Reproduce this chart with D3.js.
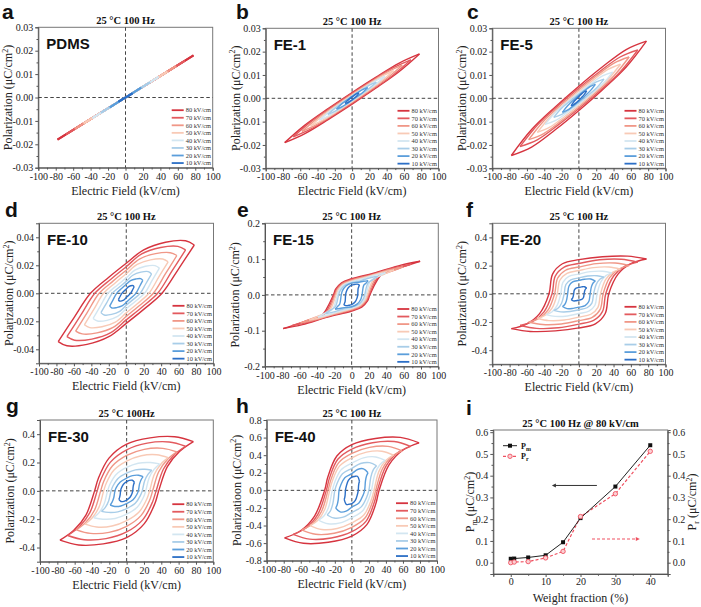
<!DOCTYPE html>
<html><head><meta charset="utf-8">
<script src="https://cdn.jsdelivr.net/npm/d3@7"></script>
<style>body{margin:0;background:#fff}svg{display:block}</style>
</head><body>
<svg id="c" width="701" height="607"></svg>
<script>
// ---------- DATA ----------
const levels = ["80 kV/cm","70 kV/cm","60 kV/cm","50 kV/cm","40 kV/cm","30 kV/cm","20 kV/cm","10 kV/cm"];
const levelColors = ["#d6343f","#e35a5e","#f09787","#f8cab6","#d3e6f1","#a8cde8","#5b9edb","#2c6fc6"];
const xTicks = [-100,-80,-60,-40,-20,0,20,40,60,80,100];

// Each loop: upper branch [E (kV/cm), P (uC/cm2)] from +Emax to -Emax; lower branch is its point reflection.
const loopsPDMS = [
 [[78,.018],[0,0],[-78,-.018]],
 [[68,.0157],[0,0],[-68,-.0157]],
 [[58,.0134],[0,0],[-58,-.0134]],
 [[48,.0111],[0,0],[-48,-.0111]],
 [[38,.0088],[0,0],[-38,-.0088]],
 [[28,.0065],[0,0],[-28,-.0065]],
 [[18,.0042],[0,0],[-18,-.0042]],
 [[8,.0018],[0,0],[-8,-.0018]]
];
const loopsFE1 = [
 [[78,.019],[54.6,.0151],[27.3,.009],[0,.0025],[-27.3,-.0043],[-54.6,-.0115],[-78,-.019]],
 [[68,.0165],[47.6,.0131],[23.8,.0078],[0,.0021],[-23.8,-.0038],[-47.6,-.01],[-68,-.0165]],
 [[58,.0142],[40.6,.0112],[20.3,.0066],[0,.0017],[-20.3,-.0034],[-40.6,-.0087],[-58,-.0142]],
 [[48,.0118],[33.6,.0093],[16.8,.0055],[0,.0014],[-16.8,-.0028],[-33.6,-.0073],[-48,-.0118]],
 [[38,.0094],[26.6,.0074],[13.3,.0043],[0,.0011],[-13.3,-.0023],[-26.6,-.0058],[-38,-.0094]],
 [[28,.0069],[19.6,.0055],[9.8,.0033],[0,.0009],[-9.8,-.0016],[-19.6,-.0042],[-28,-.0069]],
 [[18,.0046],[12.6,.0038],[6.3,.0024],[0,.0008],[-6.3,-.0009],[-12.6,-.0026],[-18,-.0046]],
 [[8,.0022],[5.6,.002],[2.8,.0013],[0,.0006],[-2.8,-.0002],[-5.6,-.0011],[-8,-.0022]]
];
const loopsFE5 = [
 [[78,.0245],[54.6,.0209],[27.3,.0135],[0,.0052],[-27.3,-.0037],[-54.6,-.0134],[-78,-.0245]],
 [[68,.0207],[47.6,.0177],[23.8,.0114],[0,.0044],[-23.8,-.0031],[-47.6,-.0113],[-68,-.0207]],
 [[58,.0177],[40.6,.0151],[20.3,.0097],[0,.0037],[-20.3,-.0027],[-40.6,-.0097],[-58,-.0177]],
 [[48,.0146],[33.6,.0124],[16.8,.0079],[0,.003],[-16.8,-.0023],[-33.6,-.0081],[-48,-.0146]],
 [[39,.0112],[27.3,.0096],[13.7,.0062],[0,.0024],[-13.7,-.0017],[-27.3,-.0061],[-39,-.0112]],
 [[29,.0082],[20.3,.007],[10.2,.0046],[0,.0018],[-10.2,-.0012],[-20.3,-.0044],[-29,-.0082]],
 [[19,.006],[13.3,.0051],[6.7,.0033],[0,.0013],[-6.7,-.0009],[-13.3,-.0033],[-19,-.006]],
 [[9,.0032],[6.3,.0028],[3.2,.0019],[0,.0008],[-3.2,-.0004],[-6.3,-.0017],[-9,-.0032]]
];
const loopsFE10 = [
 [[78,.0345],[68,.0375],[45,.0365],[20,.031],[0,.0215],[-20,.0115],[-41,0],[-60,-.0175],[-78,-.0345]],
 [[68,.031],[59.2,.0335],[39.4,.0327],[17.7,.0281],[0,.019],[-17.6,.0101],[-36,0],[-52.3,-.0158],[-68,-.031]],
 [[58,.027],[50.5,.029],[33.6,.0283],[15.1,.0244],[0,.0165],[-15.2,.0087],[-31,0],[-44.8,-.0138],[-58,-.027]],
 [[48,.0225],[41.8,.0245],[27.8,.0239],[12.5,.0206],[0,.014],[-12.7,.0074],[-26,0],[-37.2,-.0115],[-48,-.0225]],
 [[38,.018],[33,.0198],[22,.0193],[9.9,.0165],[0,.011],[-10.3,.0058],[-21,0],[-29.7,-.0092],[-38,-.018]],
 [[29,.0138],[25.2,.0155],[16.8,.0151],[7.5,.0129],[0,.0085],[-7.8,.0045],[-16,0],[-22.6,-.007],[-29,-.0138]],
 [[19,.0092],[16.5,.0105],[11,.0102],[4.9,.009],[0,.0065],[-5.4,.0034],[-11,0],[-15.1,-.0047],[-19,-.0092]],
 [[9,.0045],[7.8,.0055],[5.2,.0054],[2.3,.0046],[0,.003],[-2.5,.0016],[-5,0],[-7.1,-.0023],[-9,-.0045]]
];
const loopsFE15 = [
 [[79,.094],[56.9,.083],[27.7,.062],[0,.045],[-11.6,.034],[-18.5,.016],[-21,0],[-35.5,-.06],[-55.8,-.076],[-79,-.094]],
 [[69,.086],[49.7,.076],[24.2,.058],[0,.043],[-11,.032],[-17.6,.015],[-20,0],[-32.3,-.055],[-49.4,-.07],[-69,-.086]],
 [[59,.078],[42.5,.0695],[20.7,.054],[0,.041],[-10.5,.031],[-16.7,.014],[-19,0],[-29,-.05],[-42.4,-.063],[-59,-.078]],
 [[49,.07],[35.3,.063],[17.2,.05],[0,.039],[-9.9,.029],[-15.8,.014],[-18,0],[-25.8,-.045],[-36.6,-.057],[-49,-.07]],
 [[39,.062],[28.1,.056],[13.7,.046],[0,.037],[-9.1,.028],[-14.5,.013],[-16.5,0],[-22.1,-.04],[-30,-.05],[-39,-.062]],
 [[30,.052],[21.6,.048],[10.5,.04],[0,.034],[-8.3,.026],[-13.2,.012],[-15,0],[-18.8,-.033],[-24,-.042],[-30,-.052]],
 [[19,.04],[13.7,.038],[6.7,.035],[0,.033],[-6.6,.025],[-10.6,.012],[-12,0],[-13.8,-.026],[-16.2,-.032],[-19,-.04]],
 [[9,.028],[6.5,.03],[3.2,.029],[0,.027],[-3.9,.02],[-6.2,.009],[-7,0],[-7.5,-.018],[-8.2,-.023],[-9,-.028]]
];
const loopsFE20 = [
 [[78,.247],[56.2,.267],[27.3,.263],[0,.242],[-19,.213],[-30.4,.14],[-34.5,0],[-45.4,-.141],[-60.6,-.215],[-78,-.247]],
 [[68,.225],[49,.245],[23.8,.241],[0,.215],[-17,.189],[-27.3,.125],[-31,0],[-40.3,-.128],[-53.2,-.196],[-68,-.225]],
 [[58,.2],[41.8,.218],[20.3,.214],[0,.19],[-15.4,.167],[-24.6,.11],[-28,0],[-35.5,-.114],[-46,-.174],[-58,-.2]],
 [[48,.175],[34.6,.19],[16.8,.186],[0,.165],[-13.8,.145],[-22,.096],[-25,0],[-30.8,-.1],[-38.8,-.152],[-48,-.175]],
 [[38,.148],[27.4,.16],[13.3,.157],[0,.14],[-11.6,.123],[-18.5,.081],[-21,0],[-25.3,-.084],[-31.2,-.129],[-38,-.148]],
 [[29,.118],[20.9,.128],[10.2,.126],[0,.113],[-9.4,.099],[-15,.066],[-17,0],[-20,-.067],[-24.2,-.103],[-29,-.118]],
 [[19,.09],[13.7,.105],[6.7,.103],[0,.095],[-7.2,.084],[-11.4,.055],[-13,0],[-14.5,-.051],[-16.6,-.078],[-19,-.09]],
 [[9,.04],[6.5,.05],[3.2,.049],[0,.045],[-3.3,.04],[-5.3,.026],[-6,0],[-6.8,-.023],[-7.8,-.035],[-9,-.04]]
];
const loopsFE30 = [
 [[77,.348],[55.4,.382],[27,.374],[0,.33],[-20.4,.231],[-32.6,.089],[-37,0],[-47,-.171],[-61,-.278],[-77,-.348]],
 [[68,.315],[49,.345],[23.8,.337],[0,.29],[-18.7,.203],[-29.9,.078],[-34,0],[-42.5,-.154],[-54.4,-.252],[-68,-.315]],
 [[58,.275],[41.8,.3],[20.3,.293],[0,.25],[-16.5,.175],[-26.4,.068],[-30,0],[-37,-.135],[-46.8,-.22],[-58,-.275]],
 [[48,.235],[34.6,.255],[16.8,.248],[0,.21],[-14.6,.147],[-23.3,.057],[-26.5,0],[-31.9,-.115],[-39.4,-.188],[-48,-.235]],
 [[38,.19],[27.4,.2],[13.3,.195],[0,.165],[-12.1,.116],[-19.4,.045],[-22,0],[-26,-.093],[-31.6,-.152],[-38,-.19]],
 [[29,.145],[20.9,.152],[10.2,.148],[0,.125],[-9.9,.088],[-15.8,.034],[-18,0],[-20.8,-.071],[-24.6,-.116],[-29,-.145]],
 [[19,.1],[13.7,.11],[6.7,.107],[0,.09],[-7.4,.063],[-11.9,.024],[-13.5,0],[-14.9,-.049],[-16.8,-.08],[-19,-.1]],
 [[9,.06],[6.5,.075],[3.2,.074],[0,.065],[-3.9,.045],[-6.2,.018],[-7,0],[-7.5,-.029],[-8.2,-.048],[-9,-.06]]
];
const loopsFE40 = [
 [[79,.54],[56.9,.602],[27.7,.59],[0,.52],[-17.6,.39],[-28.2,.151],[-32,0],[-43.8,-.292],[-60.2,-.459],[-79,-.54]],
 [[69,.5],[49.7,.555],[24.2,.542],[0,.47],[-16.5,.353],[-26.4,.136],[-30,0],[-39.8,-.27],[-53.4,-.425],[-69,-.5]],
 [[59,.45],[42.5,.5],[20.7,.488],[0,.42],[-15.4,.315],[-24.6,.122],[-28,0],[-35.8,-.243],[-46.6,-.383],[-59,-.45]],
 [[49,.4],[35.3,.445],[17.2,.434],[0,.37],[-14.3,.278],[-22.9,.107],[-26,0],[-31.8,-.216],[-39.8,-.34],[-49,-.4]],
 [[39,.34],[28.1,.38],[13.7,.37],[0,.31],[-12.7,.233],[-20.2,.09],[-23,0],[-27,-.184],[-32.6,-.289],[-39,-.34]],
 [[29,.28],[20.9,.315],[10.2,.305],[0,.25],[-11,.188],[-17.6,.073],[-20,0],[-22.3,-.151],[-25.4,-.238],[-29,-.28]],
 [[19,.2],[13.7,.245],[6.7,.237],[0,.19],[-8.3,.143],[-13.2,.055],[-15,0],[-16,-.108],[-17.4,-.17],[-19,-.2]],
 [[9,.1],[6.5,.16],[3.2,.158],[0,.15],[-4.1,.113],[-6.6,.044],[-7.5,0],[-7.9,-.054],[-8.4,-.085],[-9,-.1]]
];

// panel i
const weightFraction = [0,1,5,10,15,20,30,40];
const pmValues = [0.018,0.019,0.024,0.034,0.094,0.205,0.35,0.54];
const prValues = [0.0,0.003,0.005,0.022,0.052,0.212,0.317,0.512];
const iXTicks = [0,10,20,30,40];
const iYTicks = [0,0.1,0.2,0.3,0.4,0.5,0.6];
const arrowPm = [[24.7,0.355],[11.8,0.355]];
const arrowPr = [[23.3,0.109],[37,0.109]];

const yTicksA = [-0.03,-0.02,-0.01,0,0.01,0.02,0.03];
const yTicksD = [-0.04,-0.02,0,0.02,0.04];
const yTicksE = [-0.2,-0.1,0,0.1,0.2];
const yTicksF = [-0.4,-0.2,0,0.2,0.4];
const yTicksH = [-0.8,-0.6,-0.4,-0.2,0,0.2,0.4,0.6,0.8];

// ---------- DRAW ----------
const svg = d3.select("#c");
const serif = "'Liberation Serif','Times New Roman',serif";
const sans = "'Liberation Sans',Arial,sans-serif";
const axisCol = "#555";

const panels = [
 {letter:"a",lx:2,ly:19,name:"PDMS", loops:loopsPDMS, lw:2, box:[38.3,27.3,212.7,167.7], yDom:[-0.03,0.03], yT:yTicksA, dec:2, title:"25 °C 100 Hz"},
 {letter:"b",lx:236,ly:19,name:"FE-1", loops:loopsFE1, box:[265.7,28.3,438.5,168.3], yDom:[-0.03,0.03], yT:yTicksA, dec:2, title:"25 °C 100 Hz"},
 {letter:"c",lx:467,ly:19,name:"FE-5", loops:loopsFE5, box:[492.3,28.3,665.5,168.3], yDom:[-0.03,0.03], yT:yTicksA, dec:2, title:"25 °C 100 Hz"},
 {letter:"d",lx:5,ly:217,name:"FE-10", loops:loopsFE10, box:[39,223.3,213.5,363.3], yDom:[-0.05,0.05], yT:yTicksD, dec:2, title:"25 °C 100 Hz"},
 {letter:"e",lx:237,ly:217,name:"FE-15", loops:loopsFE15, box:[265,223.3,438.3,366.5], yDom:[-0.2,0.2], yT:yTicksE, dec:1, title:"25 °C 100 Hz"},
 {letter:"f",lx:466,ly:217,name:"FE-20", loops:loopsFE20, box:[492.3,223.3,665.5,364.3], yDom:[-0.5,0.5], yT:yTicksF, dec:1, title:"25 °C 100 Hz"},
 {letter:"g",lx:6,ly:413,name:"FE-30", loops:loopsFE30, box:[40,420,213.3,561.7], yDom:[-0.5,0.5], yT:yTicksF, dec:1, title:"25 °C 100Hz"},
 {letter:"h",lx:236,ly:413,name:"FE-40", loops:loopsFE40, box:[266.7,420,437,560.7], yDom:[-0.8,0.8], yT:yTicksH, dec:1, title:"25 °C 100 Hz", ylab:"Polarizatioon"}
];

function midTicks(arr){const m=[];for(let i=0;i<arr.length-1;i++)m.push((arr[i]+arr[i+1])/2);return m;}

function styleAxis(sel){
  sel.select(".domain").attr("stroke",axisCol).attr("stroke-width",1);
  sel.selectAll(".tick line").attr("stroke",axisCol);
  sel.selectAll("text").attr("font-family",serif).attr("font-size","10px").attr("fill","#222");
}

function yLabel(g, x, cy, main, sub){
  const t = g.append("text").attr("transform",`translate(${x},${cy}) rotate(-90)`)
    .attr("text-anchor","middle").attr("font-family",serif).attr("font-size","12px").attr("fill","#222");
  if(sub){ t.append("tspan").text("P"); t.append("tspan").attr("font-size","8px").attr("dy",3).text(sub); t.append("tspan").attr("dy",-3).text(" (μC/cm"); }
  else t.append("tspan").text(main+" (μC/cm");
  t.append("tspan").attr("font-size","8px").attr("dy",-4.5).text("2");
  t.append("tspan").attr("dy",4.5).text(")");
}

panels.forEach(p=>{
  const [x0,y0,x1,y1]=p.box;
  const x=d3.scaleLinear().domain([-100,100]).range([x0,x1]);
  const y=d3.scaleLinear().domain(p.yDom).range([y1,y0]);
  const g=svg.append("g");
  g.append("rect").attr("x",x0).attr("y",y0).attr("width",x1-x0).attr("height",y1-y0)
    .attr("fill","none").attr("stroke","#777").attr("stroke-width",1);
  const xa=g.append("g").attr("transform",`translate(0,${y1})`)
    .call(d3.axisBottom(x).tickValues(xTicks).tickFormat(d=>String(d)).tickSize(3).tickPadding(2));
  styleAxis(xa);
  g.append("g").attr("transform",`translate(0,${y1})`)
    .call(d3.axisBottom(x).tickValues(midTicks(xTicks)).tickFormat("").tickSize(1.8))
    .call(s=>{s.select(".domain").remove();s.selectAll("line").attr("stroke",axisCol);});
  const ya=g.append("g").attr("transform",`translate(${x0},0)`)
    .call(d3.axisLeft(y).tickValues(p.yT).tickFormat(d=>(Math.abs(d)<1e-9?0:d).toFixed(p.dec)).tickSize(3).tickPadding(2));
  styleAxis(ya);
  g.append("g").attr("transform",`translate(${x0},0)`)
    .call(d3.axisLeft(y).tickValues(midTicks(p.yT)).tickFormat("").tickSize(1.8))
    .call(s=>{s.select(".domain").remove();s.selectAll("line").attr("stroke",axisCol);});
  g.append("line").attr("x1",x0).attr("x2",x1).attr("y1",y(0)).attr("y2",y(0))
    .attr("stroke","#444").attr("stroke-dasharray","3.5,2.5").attr("stroke-width",1);
  g.append("line").attr("x1",x(0)).attr("x2",x(0)).attr("y1",y0).attr("y2",y1)
    .attr("stroke","#444").attr("stroke-dasharray","3.5,2.5").attr("stroke-width",1);
  const line=d3.line().x(d=>x(d[0])).y(d=>y(d[1])).curve(d3.curveCatmullRom.alpha(0.5));
  p.loops.forEach((up,i)=>{
    const low=up.map(d=>[-d[0],-d[1]]);
    [up,low].forEach(br=>{
      g.append("path").attr("d",line(br)).attr("fill","none").attr("stroke",levelColors[i])
        .attr("stroke-width",p.lw||1.4).attr("stroke-linejoin","round");
    });
  });
  levels.forEach((lab,i)=>{
    const ly=y1-57.5+i*7.55;
    g.append("line").attr("x1",x1-41).attr("x2",x1-29).attr("y1",ly).attr("y2",ly)
      .attr("stroke",levelColors[i]).attr("stroke-width",1.8);
    g.append("text").attr("x",x1-27).attr("y",ly+2.2).attr("font-family",serif)
      .attr("font-size","6.4px").attr("fill","#333").text(lab);
  });
  g.append("text").attr("x",(x0+x1)/2).attr("y",y0-3).attr("text-anchor","middle")
    .attr("font-family",serif).attr("font-weight","bold").attr("font-size","10.5px").attr("fill","#111").text(p.title);
  g.append("text").attr("x",x0+8).attr("y",y0+22).attr("font-family",sans).attr("font-weight","bold")
    .attr("font-size","15px").attr("fill","#111").text(p.name);
  g.append("text").attr("x",(x0+x1)/2).attr("y",y1+27).attr("text-anchor","middle")
    .attr("font-family",serif).attr("font-size","12px").attr("fill","#222").text("Electric Field (kV/cm)");
  yLabel(g, x0-26, (y0+y1)/2, p.ylab||"Polarization");
  g.append("text").attr("x",p.lx).attr("y",p.ly).attr("font-family",sans).attr("font-weight","bold")
    .attr("font-size","21px").attr("fill","#111").text(p.letter);
});

// ---------- panel i ----------
(function(){
  const x0=493.3,y0=430,x1=667.7,y1=574;
  const x=d3.scaleLinear().domain([-5,45]).range([x0,x1]);
  const y=d3.scaleLinear().domain([-0.052,0.61]).range([y1,y0]);
  const g=svg.append("g");
  g.append("rect").attr("x",x0).attr("y",y0).attr("width",x1-x0).attr("height",y1-y0)
    .attr("fill","none").attr("stroke","#777");
  const xa=g.append("g").attr("transform",`translate(0,${y1})`)
    .call(d3.axisBottom(x).tickValues(iXTicks).tickFormat(d=>String(d)).tickSize(3).tickPadding(1));
  styleAxis(xa);
  g.append("g").attr("transform",`translate(0,${y1})`)
    .call(d3.axisBottom(x).tickValues([-5,5,15,25,35,45]).tickFormat("").tickSize(1.8))
    .call(s=>{s.select(".domain").remove();s.selectAll("line").attr("stroke",axisCol);});
  const ya=g.append("g").attr("transform",`translate(${x0},0)`)
    .call(d3.axisLeft(y).tickValues(iYTicks).tickFormat(d=>d.toFixed(1)).tickSize(3).tickPadding(2));
  styleAxis(ya);
  const yb=g.append("g").attr("transform",`translate(${x1},0)`)
    .call(d3.axisRight(y).tickValues(iYTicks).tickFormat(d=>d.toFixed(1)).tickSize(3).tickPadding(2));
  styleAxis(yb);
  [x0,x1].forEach((xx,k)=>{
    g.append("g").attr("transform",`translate(${xx},0)`)
     .call((k?d3.axisRight(y):d3.axisLeft(y)).tickValues(midTicks(iYTicks)).tickFormat("").tickSize(1.8))
     .call(s=>{s.select(".domain").remove();s.selectAll("line").attr("stroke",axisCol);});
  });
  const pm=weightFraction.map((w,i)=>[w,pmValues[i]]);
  const pr=weightFraction.map((w,i)=>[w,prValues[i]]);
  const ln=d3.line().x(d=>x(d[0])).y(d=>y(d[1]));
  g.append("path").attr("d",ln(pr)).attr("fill","none").attr("stroke","#ef5060").attr("stroke-width",1.2).attr("stroke-dasharray","3,2");
  g.append("path").attr("d",ln(pm)).attr("fill","none").attr("stroke","#222").attr("stroke-width",1);
  g.selectAll(".pm").data(pm).enter().append("rect").attr("x",d=>x(d[0])-2).attr("y",d=>y(d[1])-2)
    .attr("width",4).attr("height",4).attr("fill","#111");
  g.selectAll(".pr").data(pr).enter().append("circle").attr("cx",d=>x(d[0])).attr("cy",d=>y(d[1]))
    .attr("r",2.2).attr("fill","#fbd0d3").attr("stroke","#ef5060").attr("stroke-width",0.9);
  g.append("line").attr("x1",x(arrowPm[0][0])).attr("x2",x(arrowPm[1][0])+3).attr("y1",y(arrowPm[0][1])).attr("y2",y(arrowPm[1][1]))
    .attr("stroke","#333").attr("stroke-width",1);
  const ax=x(arrowPm[1][0]), ay=y(arrowPm[1][1]);
  g.append("path").attr("d",`M${ax},${ay}L${ax+4},${ay-2}L${ax+4},${ay+2}Z`).attr("fill","#333");
  g.append("line").attr("x1",x(arrowPr[0][0])).attr("x2",x(arrowPr[1][0])-3).attr("y1",y(arrowPr[0][1])).attr("y2",y(arrowPr[1][1]))
    .attr("stroke","#ef5060").attr("stroke-width",1.2).attr("stroke-dasharray","3,2");
  const bx=x(arrowPr[1][0]), by=y(arrowPr[1][1]);
  g.append("path").attr("d",`M${bx},${by}L${bx-4},${by-2}L${bx-4},${by+2}Z`).attr("fill","#ef5060");
  const lx=503;
  g.append("line").attr("x1",lx).attr("x2",lx+14).attr("y1",445.7).attr("y2",445.7).attr("stroke","#222");
  g.append("rect").attr("x",lx+5).attr("y",443.7).attr("width",4).attr("height",4).attr("fill","#111");
  const t1=g.append("text").attr("x",lx+18).attr("y",448.5).attr("font-family",serif).attr("font-weight","bold").attr("font-size","8px").attr("fill","#111");
  t1.append("tspan").text("P"); t1.append("tspan").attr("font-size","6px").attr("dy",2).text("m");
  g.append("line").attr("x1",lx).attr("x2",lx+14).attr("y1",456.3).attr("y2",456.3).attr("stroke","#ef5060").attr("stroke-dasharray","3,2").attr("stroke-width",1.2);
  g.append("circle").attr("cx",lx+7).attr("cy",456.3).attr("r",2.2).attr("fill","#fbd0d3").attr("stroke","#ef5060").attr("stroke-width",0.9);
  const t2=g.append("text").attr("x",lx+18).attr("y",459).attr("font-family",serif).attr("font-weight","bold").attr("font-size","8px").attr("fill","#111");
  t2.append("tspan").text("P"); t2.append("tspan").attr("font-size","6px").attr("dy",2).text("r");
  g.append("text").attr("x",(x0+x1)/2).attr("y",y0-3).attr("text-anchor","middle").attr("font-family",serif)
    .attr("font-weight","bold").attr("font-size","10.5px").attr("fill","#111").text("25 °C 100 Hz @ 80 kV/cm");
  g.append("text").attr("x",(x0+x1)/2).attr("y",602).attr("text-anchor","middle").attr("font-family",serif)
    .attr("font-size","12px").attr("fill","#222").text("Weight fraction (%)");
  yLabel(g, 474, (y0+y1)/2, null, "m");
  yLabel(g, 696, (y0+y1)/2, null, "r");
  g.append("text").attr("x",466).attr("y",415).attr("font-family",sans).attr("font-weight","bold")
    .attr("font-size","21px").attr("fill","#111").text("i");
})();
</script>
</body></html>
